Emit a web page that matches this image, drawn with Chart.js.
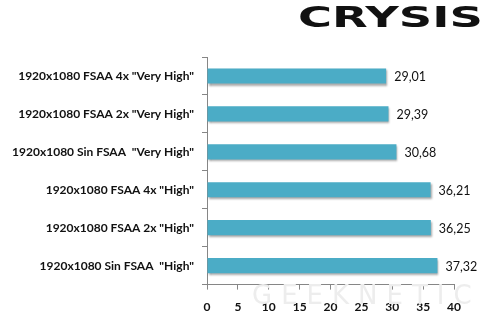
<!doctype html>
<html lang="es">
  <head>
    <meta charset="utf-8">
    <title>Crysis</title>
    <style>
      html, body { margin: 0; padding: 0; background: #fff; }
      #wrap { position: relative; width: 482px; height: 330px; }
      #logo {
        position: absolute; left: 298px; top: 0px; line-height: 40px;
        font: 900 29px "DejaVu Sans", sans-serif; color: #111;
        letter-spacing: 0px; transform: scaleX(1.6); transform-origin: left top;
      }
      #mark {
        position: absolute; left: 252px; top: 280px;
        font: 400 26px "DejaVu Sans", sans-serif; color: #ededed; letter-spacing: 9px;
      }
    </style>
  </head>
  <body>
    <div id="wrap">
      <div id="mark">GEEKNETIC</div>
      <canvas id="bar-chart" width="482" height="330"></canvas>
      <div id="logo">CRYSIS</div>
    </div>

    <script src="https://cdn.jsdelivr.net/npm/chart.js"></script>
    <script>
        // data
        var labels = [
            '1920x1080 FSAA 4x "Very High"',
            '1920x1080 FSAA 2x "Very High"',
            '1920x1080 Sin FSAA  "Very High"',
            '1920x1080 FSAA 4x "High"',
            '1920x1080 FSAA 2x "High"',
            '1920x1080 Sin FSAA  "High"'
        ]
        var fps = [29.01, 29.39, 30.68, 36.21, 36.25, 37.32]
        var xTicks = [0, 5, 10, 15, 20, 25, 30, 35, 40]

        // value labels at the end of each bar, with comma decimals
        var valueLabels = {
            id: 'valueLabels',
            afterDatasetsDraw(chart) {
                var ctx = chart.ctx
                var meta = chart.getDatasetMeta(0)
                ctx.save()
                ctx.font = '12.5px Lato, sans-serif'
                ctx.fillStyle = '#111'
                ctx.textBaseline = 'middle'
                meta.data.forEach(function (bar, i) {
                    ctx.fillText(fps[i].toFixed(2).replace('.', ','), bar.x + 8, bar.y + 1)
                })
                ctx.restore()
            }
        }

        // soft grey shadow under bars
        var barShadow = {
            id: 'barShadow',
            beforeDatasetsDraw(chart) {
                var ctx = chart.ctx
                ctx.save()
                ctx.shadowColor = 'rgba(0,0,0,0.35)'
                ctx.shadowOffsetX = 1
                ctx.shadowOffsetY = 2
                ctx.shadowBlur = 2
            },
            afterDatasetsDraw(chart) {
                chart.ctx.restore()
            }
        }

        new Chart(document.getElementById('bar-chart'), {
            type: 'bar',
            data: {
                labels: labels,
                datasets: [{
                    data: fps,
                    backgroundColor: '#4bacc6',
                    borderWidth: 0,
                    barPercentage: 0.4,
                    categoryPercentage: 1
                }]
            },
            options: {
                indexAxis: 'y',
                responsive: false,
                animation: false,
                layout: { padding: { top: 57, right: 28, bottom: 6, left: 0 } },
                plugins: {
                    legend: { display: false },
                    tooltip: { enabled: false }
                },
                scales: {
                    x: {
                        min: 0, max: 40,
                        afterBuildTicks: function (axis) {
                            axis.ticks = xTicks.map(function (v) { return { value: v } })
                        },
                        border: { color: '#868686', width: 1 },
                        grid: { drawOnChartArea: false, drawTicks: true, tickLength: 5, color: '#868686' },
                        ticks: {
                            color: '#111',
                            padding: 10,
                            font: { family: 'Lato', size: 12, weight: 'bold' }
                        }
                    },
                    y: {
                        afterFit: function (axis) { axis.width = 207 },
                        border: { color: '#868686', width: 1 },
                        grid: { drawOnChartArea: false, drawTicks: true, tickLength: 5, color: '#868686' },
                        ticks: {
                            color: '#111',
                            padding: 8,
                            font: { family: 'Lato', size: 12, weight: 'bold' }
                        }
                    }
                }
            },
            plugins: [barShadow, valueLabels]
        })
    </script>
  </body>
</html>
